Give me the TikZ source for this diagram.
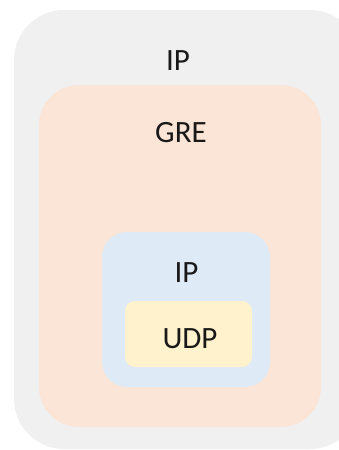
\documentclass[tikz,border=0pt]{standalone}
\usepackage{fontspec}
\setmainfont{Carlito}

\definecolor{ipgray}{HTML}{F0F0F0}
\definecolor{greorange}{HTML}{FBE5D6}
\definecolor{ipblue}{HTML}{DEEBF7}
\definecolor{udpyellow}{HTML}{FFF2CC}

\tikzset{every picture/.style={line width=0.75pt}}
\tikzset{layer/.style={draw=none, inner sep=0pt}}
\tikzset{hdr/.style={anchor=base, inner sep=0pt, text=black!90, font=\fontsize{31}{31}\selectfont}}

\begin{document}
\begin{tikzpicture}[x=1pt,y=1pt,yscale=-1]
\useasboundingbox (0,0) rectangle (339,450);
\clip (0,0) rectangle (339,450);

%Rounded Rect: outer IP
\node (ipout) [layer, fill=ipgray, rounded corners=50, minimum width=346, minimum height=439] at (187,229.5) {};
%Rounded Rect: GRE
\node (gre) [layer, fill=greorange, rounded corners=40, minimum width=282, minimum height=342] at (180,256) {};
%Rounded Rect: inner IP
\node (ipin) [layer, fill=ipblue, rounded corners=25, minimum width=168, minimum height=155] at (186,309.5) {};
%Rounded Rect: UDP
\node (udp) [layer, fill=udpyellow, rounded corners=10, minimum width=127, minimum height=66] at (188.5,334) {};

% Text Node
\node (ipoutlbl) [hdr] at (178,70) {IP};
% Text Node
\node (grelbl) [hdr] at (181,142) {GRE};
% Text Node
\node (ipinlbl) [hdr] at (186.5,282) {IP};
% Text Node
\node (udplbl) [hdr] at (190,348) {UDP};

\end{tikzpicture}
\end{document}
